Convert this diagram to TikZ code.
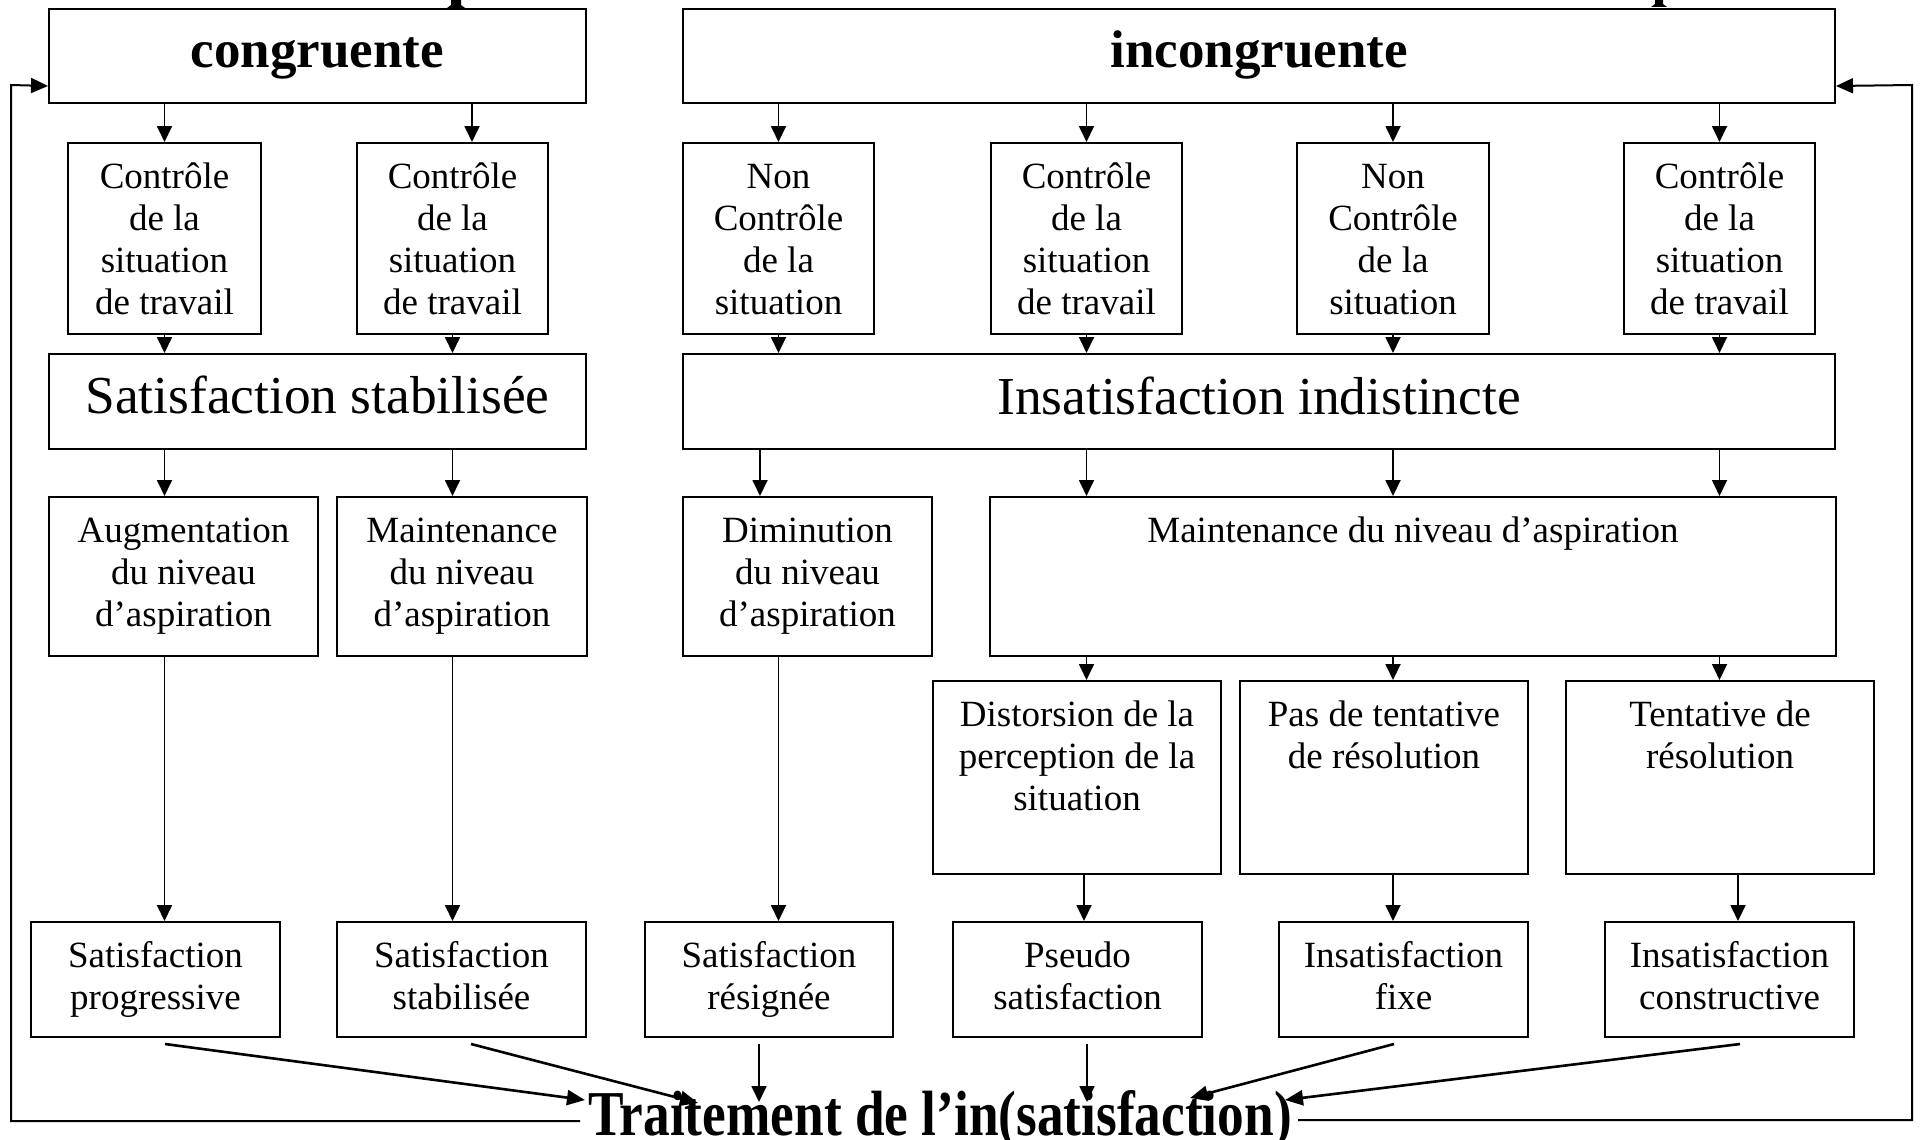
\documentclass[tikz,border=0pt]{standalone}
\usepackage{fontspec}
\setmainfont{Liberation Serif}
\usepackage{graphicx}
\usetikzlibrary{arrows.meta,calc}
\newcommand\fs{\rule{0pt}{32pt}}
\tikzset{
  box/.style={draw, line width=2pt, inner sep=0pt},
  txt/.style={font=\fontsize{37}{42}\selectfont, align=center, inner sep=0pt, anchor=north},
  big/.style={font=\fontsize{53.4}{60}\selectfont, anchor=base, inner sep=0pt},
  ttl/.style={font=\fontsize{53}{60}\selectfont\bfseries, anchor=base, inner sep=0pt},
  con/.style={line width=1.8pt, -{Triangle[width=15pt,length=16pt]}},
  con2/.style={line width=2.6pt, -{Triangle[width=15pt,length=18pt]}},
  loopline/.style={line width=2pt},
}
\newcommand\bt[2]{\node[txt] (#1-t) at ([yshift=-14pt]#1.north) {\fs #2};}
\begin{document}
\begin{tikzpicture}[x=1pt,y=-1pt]
\useasboundingbox (0,0) rectangle (1923,1140);
\fill[white] (0,0) rectangle (1923,1140);
\clip (0,0) rectangle (1923,1140);

% top fragments
\fill (451,0) -- (461,0) -- (461,5) -- (465,8) -- (447,8) -- (451,5) -- cycle;
\fill (1655,0) -- (1663,0) -- (1663,4) -- (1667,7) -- (1651,7) -- (1655,4) -- cycle;

% row 1
\node[box, minimum width=537pt, minimum height=94pt] (congr) at (317.5,56) {};
\node[ttl] (congr-t) at (317.5,68) {congruente};
\node[box, minimum width=1152pt, minimum height=94pt] (incong) at (1259,56) {};
\node[ttl] (incong-t) at (1259,68) {incongruente};

% row 2
\node[box, minimum width=193pt, minimum height=191pt] (c1) at (164.5,238.5) {};
\node[box, minimum width=191pt, minimum height=191pt] (c2) at (452.5,238.5) {};
\node[box, minimum width=191pt, minimum height=191pt] (n1) at (778.5,238.5) {};
\node[box, minimum width=191pt, minimum height=191pt] (c3) at (1086.5,238.5) {};
\node[box, minimum width=192pt, minimum height=191pt] (n2) at (1393,238.5) {};
\node[box, minimum width=191pt, minimum height=191pt] (c4) at (1719.5,238.5) {};
\bt{c1}{Contrôle\\de la\\situation\\de travail}
\bt{c2}{Contrôle\\de la\\situation\\de travail}
\bt{n1}{Non\\Contrôle\\de la\\situation}
\bt{c3}{Contrôle\\de la\\situation\\de travail}
\bt{n2}{Non\\Contrôle\\de la\\situation}
\bt{c4}{Contrôle\\de la\\situation\\de travail}

% row 3
\node[box, minimum width=537pt, minimum height=95pt] (satstab) at (317.5,401.5) {};
\node[big] (satstab-t) at (317.5,413) {Satisfaction stabilisée};
\node[box, minimum width=1152pt, minimum height=95pt] (insatind) at (1259,401.5) {};
\node[big] (insatind-t) at (1259,414) {Insatisfaction indistincte};

% row 4
\node[box, minimum width=269pt, minimum height=159pt] (aug) at (183.5,576.5) {};
\node[box, minimum width=250pt, minimum height=159pt] (maint1) at (462,576.5) {};
\node[box, minimum width=249pt, minimum height=159pt] (dimin) at (807.5,576.5) {};
\node[box, minimum width=846pt, minimum height=159pt] (maint2) at (1413,576.5) {};
\bt{aug}{Augmentation\\du niveau\\d’aspiration}
\bt{maint1}{Maintenance\\du niveau\\d’aspiration}
\bt{dimin}{Diminution\\du niveau\\d’aspiration}
\bt{maint2}{Maintenance du niveau d’aspiration}

% row 5
\node[box, minimum width=288pt, minimum height=193pt] (dist) at (1077,777.5) {};
\node[box, minimum width=288pt, minimum height=193pt] (pas) at (1384,777.5) {};
\node[box, minimum width=308pt, minimum height=193pt] (tent) at (1720,777.5) {};
\bt{dist}{Distorsion de la\\perception de la\\situation}
\bt{pas}{Pas de tentative\\de résolution}
\bt{tent}{Tentative de\\résolution}

% row 6
\node[box, minimum width=249pt, minimum height=115pt] (r1) at (155.5,979.5) {};
\node[box, minimum width=249pt, minimum height=115pt] (r2) at (461.5,979.5) {};
\node[box, minimum width=248pt, minimum height=115pt] (r3) at (769,979.5) {};
\node[box, minimum width=249pt, minimum height=115pt] (r4) at (1077.5,979.5) {};
\node[box, minimum width=249pt, minimum height=115pt] (r5) at (1403.5,979.5) {};
\node[box, minimum width=249pt, minimum height=115pt] (r6) at (1729.5,979.5) {};
\bt{r1}{Satisfaction\\progressive}
\bt{r2}{Satisfaction\\stabilisée}
\bt{r3}{Satisfaction\\résignée}
\bt{r4}{Pseudo\\satisfaction}
\bt{r5}{Insatisfaction\\fixe}
\bt{r6}{Insatisfaction\\constructive}

% bottom text
\node[font=\fontsize{53.3}{60}\selectfont\bfseries, anchor=base, inner sep=0pt] (trait) at (940,1135)
  {\scalebox{1}[1.2]{Traitement de l’in(satisfaction)}};

% row1 -> row2
\draw[con] (c1.north |- congr.south) -- (c1.north);
\draw[con] ([xshift=19.5pt]c2.north |- congr.south) -- ([xshift=19.5pt]c2.north);
\foreach \b in {n1,c3,n2,c4}{\draw[con] (\b.north |- incong.south) -- (\b.north);}

% row2 -> row3
\draw[con] (c1.south) -- (c1.south |- satstab.north);
\draw[con] (c2.south) -- (c2.south |- satstab.north);
\foreach \b in {n1,c3,n2,c4}{\draw[con] (\b.south) -- (\b.south |- insatind.north);}

% row3 -> row4
\draw[con] (c1.south |- satstab.south) -- (c1.south |- aug.north);
\draw[con] (c2.south |- satstab.south) -- (c2.south |- maint1.north);
\draw[con] ([xshift=-47.5pt]dimin.north |- insatind.south) -- ([xshift=-47.5pt]dimin.north);
\foreach \b in {c3,n2,c4}{\draw[con] (\b.south |- insatind.south) -- (\b.south |- maint2.north);}

% row4 -> row5
\draw[con] (c3.south |- maint2.south) -- (c3.south |- dist.north);
\draw[con] (n2.south |- maint2.south) -- (n2.south |- pas.north);
\draw[con] (c4.south |- maint2.south) -- (c4.south |- tent.north);

% row4 -> row6
\draw[con] (c1.south |- aug.south) -- (c1.south |- r1.north);
\draw[con] (c2.south |- maint1.south) -- (c2.south |- r2.north);
\draw[con] (n1.south |- dimin.south) -- (n1.south |- r3.north);

% row5 -> row6
\draw[con] ([xshift=7pt]dist.south) -- ([xshift=6.5pt]r4.north);
\draw[con] ([xshift=9pt]pas.south) -- ([xshift=-10.5pt]r5.north);
\draw[con] ([xshift=18pt]tent.south) -- ([xshift=8.5pt]r6.north);

% row6 -> traitement
\coordinate (s1) at (165,1044);
\coordinate (s2) at (471,1044);
\coordinate (s3) at (759,1044);
\coordinate (s4) at (1087,1044);
\coordinate (s5) at (1394,1044);
\coordinate (s6) at (1740,1044);
\coordinate (e1) at (585,1100);
\coordinate (e2) at (698,1103);
\coordinate (e3) at (759,1102);
\coordinate (e4) at (1087,1102);
\coordinate (e5) at (1190,1098);
\coordinate (e6) at (1285,1100);
\draw[con2] (s1) -- (e1);
\draw[con2] (s2) -- (e2);
\draw[con] (s3) -- (e3);
\draw[con] (s4) -- (e4);
\draw[con2] (s5) -- (e5);
\draw[con2] (s6) -- (e6);

% feedback loops
\coordinate (la) at (580,1121);
\coordinate (ra) at (1298,1120);
\draw[loopline, -{Triangle[width=15pt,length=17pt]}] (la) -- (11,1121) -- (11,85) -- ([yshift=18pt]congr.south west);
\draw[loopline, -{Triangle[width=15pt,length=17pt]}] (ra) -- (1912,1120) -- (1912,85) -- ([yshift=18pt]incong.south east);
\end{tikzpicture}
\end{document}
